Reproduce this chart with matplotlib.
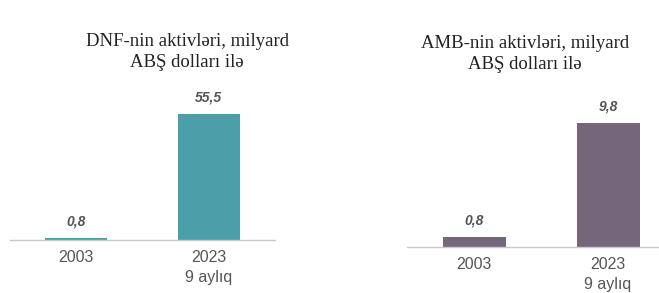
import matplotlib.pyplot as plt

categories = ['2003', '2023\n9 aylıq']
dnf_values = [0.8, 55.5]
amb_values = [0.8, 9.8]
dnf_labels = ['0,8', '55,5']
amb_labels = ['0,8', '9,8']

fig = plt.figure(figsize=(6.59, 2.93), dpi=100)

def draw_panel(rect, values, labels, color, ylim, xlim, title, title_xy):
    ax = fig.add_axes(rect)
    x = list(range(len(values)))
    bars = ax.bar(x, values, width=0.47, color=color)
    for b, lab in zip(bars, labels):
        ax.annotate(lab, (b.get_x() + b.get_width() / 2, b.get_height()),
                    xytext=(0, 7), textcoords='offset points',
                    ha='center', va='bottom', fontsize=10,
                    fontweight='bold', fontstyle='italic', color='#555555',
                    family='Liberation Sans')
    ax.set_xlim(*xlim)
    ax.set_ylim(0, ylim)
    ax.set_xticks(x)
    ax.set_xticklabels(categories, fontsize=11.5, color='#555555',
                       family='Liberation Sans', linespacing=1.45)
    ax.tick_params(axis='x', length=0, pad=7)
    ax.set_yticks([])
    for s in ['top', 'right', 'left']:
        ax.spines[s].set_visible(False)
    ax.spines['bottom'].set_color('#c8c8c8')
    ax.spines['bottom'].set_linewidth(1.0)
    fig.text(title_xy[0], title_xy[1], title, ha='center', va='center',
             fontsize=13.5, family='Liberation Serif', color='#222222',
             linespacing=1.25)
    return ax

draw_panel([10 / 659, 53 / 293, 265 / 659, 150 / 293], dnf_values, dnf_labels,
           '#4a9fa9', 66.0, (-0.5, 1.5),
           'DNF-nin aktivləri, milyard\nABŞ dolları ilə', (187 / 659, 1 - 52 / 293))

draw_panel([407 / 659, 46 / 293, 252 / 659, 150 / 293], amb_values, amb_labels,
           '#76667a', 11.86, (-0.5, 1.38),
           'AMB-nin aktivləri, milyard\nABŞ dolları ilə', (525 / 659, 1 - 54 / 293))

plt.savefig('out.png', dpi=100)
